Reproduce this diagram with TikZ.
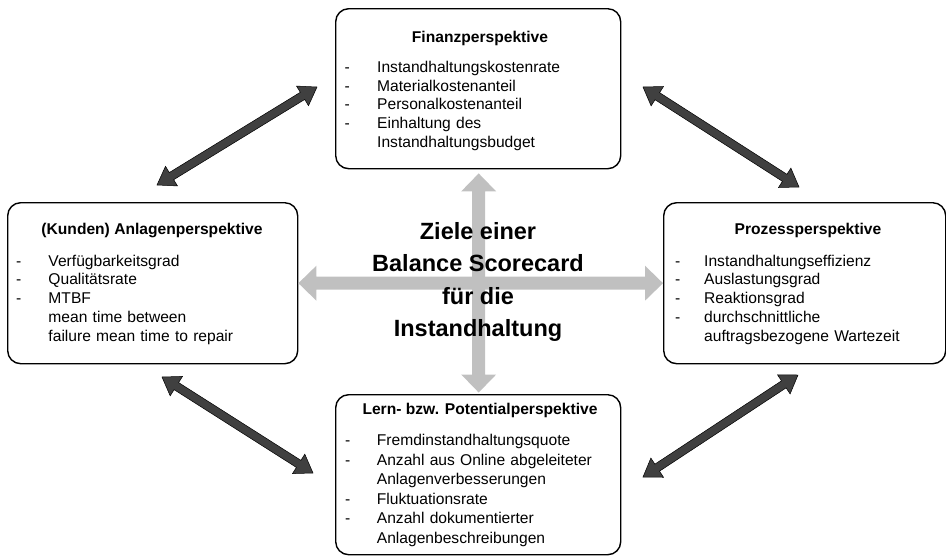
\documentclass[tikz,border=0pt]{standalone}
\usepackage{fontspec}
\setmainfont{Liberation Sans}
\usetikzlibrary{calc}
\definecolor{darkarrow}{HTML}{404040}
\definecolor{lightarrow}{HTML}{C0C0C0}
\newlength\dashw
\newcommand\dit{\makebox[\dashw][l]{-}}
\newcommand\nodit{\hspace*{\dashw}}
% #1 style, #2 start, #3 end, #4 half shaft, #5 half head, #6 head length
\newcommand\fatarrow[6][]{%
  \path let \p1=($(#3)-(#2)$) in \pgfextra{%
    \pgfmathsetmacro\fatang{atan2(\y1,\x1)}%
    \pgfmathsetmacro\fatlen{veclen(\x1,\y1)}%
    \global\let\fatang\fatang \global\let\fatlen\fatlen};
  \begin{scope}[shift={(#2)},rotate=\fatang]
    \path[#1] (0,0) -- (#6,#5) -- (#6,#4) -- ({\fatlen-#6},#4) -- ({\fatlen-#6},#5)
      -- (\fatlen,0) -- ({\fatlen-#6},-#5) -- ({\fatlen-#6},-#4) -- (#6,-#4) -- (#6,-#5) -- cycle;
  \end{scope}}
\begin{document}
\begin{tikzpicture}[x=1pt,y=-1pt,
  box/.style={draw=black, line width=1.4pt, rounded corners=13pt, inner sep=0pt, anchor=north west},
  boxtitle/.style={font=\fontsize{15.6}{18.8}\selectfont\bfseries, anchor=base, inner sep=0pt},
  itemlist/.style={font=\fontsize{15.6}{18.8}\selectfont, anchor=base west, inner sep=0pt, text width=270pt, align=left},
  ctrtext/.style={font=\fontsize{23.5}{28}\selectfont\bfseries, anchor=base, inner sep=0pt},
  darkfat/.style={fill=darkarrow, draw=black, line width=0.5pt, line join=miter},
  lightfat/.style={fill=lightarrow, draw=none}]
\useasboundingbox (0,0) rectangle (946,555);
% boxes
\node[box, minimum width=285pt, minimum height=160pt] (fin) at (335,8) {};
\node[box, minimum width=290pt, minimum height=161pt] (anl) at (7,202) {};
\node[box, minimum width=282pt, minimum height=161pt] (proz) at (663,202) {};
\node[box, minimum width=285pt, minimum height=160pt] (lern) at (335,394) {};
% named connector ends
\coordinate (vtop) at ($(fin.south)+(0.5,4)$);
\coordinate (vbot) at ($(lern.north)+(0.5,-1.5)$);
\coordinate (a1s) at (157,185); \coordinate (a1e) at (317,87);
\coordinate (a2s) at (643,87);  \coordinate (a2e) at (799,187);
\coordinate (a3s) at (162,377); \coordinate (a3e) at (313,473);
\coordinate (a4s) at (643,477); \coordinate (a4e) at (798,375);
% gray arrows
\fatarrow[lightfat]{vtop}{vbot}{6.5}{17.5}{18}
\fatarrow[lightfat]{anl.east}{proz.west}{6.5}{17.5}{18}
% dark arrows
\fatarrow[darkfat]{a1s}{a1e}{4.2}{11.5}{17}
\fatarrow[darkfat]{a2s}{a2e}{4.2}{11.5}{17}
\fatarrow[darkfat]{a3s}{a3e}{4.2}{11.5}{17}
\fatarrow[darkfat]{a4s}{a4e}{4.2}{11.5}{17}
% center text
\node[ctrtext] (c1) at (478,239.5) {Ziele einer};
\node[ctrtext] (c2) at (478,271.5) {Balance Scorecard};
\node[ctrtext] (c3) at (478,304) {für die};
\node[ctrtext] (c4) at (478,336.5) {Instandhaltung};
% top box
\node[boxtitle] (fint) at (480,42.5) {Finanzperspektive};
\node[itemlist] (finl) at (344.5,72.3) {\setlength\dashw{32.5pt}%
\dit Instandhaltungskostenrate\\
\dit Materialkostenanteil\\
\dit Personalkostenanteil\\
\dit Einhaltung des\\
\nodit Instandhaltungsbudget};
% left box
\node[boxtitle] (anlt) at (152,234.3) {(Kunden) Anlagenperspektive};
\node[itemlist] (anll) at (16,266) {\setlength\dashw{32.3pt}%
\dit Verfügbarkeitsgrad\\
\dit Qualitätsrate\\
\dit MTBF\\
\nodit mean time between\\
\nodit failure mean time to repair};
% right box
\node[boxtitle] (prozt) at (808,234.5) {Prozessperspektive};
\node[itemlist] (prozl) at (675,266) {\setlength\dashw{29pt}%
\dit Instandhaltungseffizienz\\
\dit Auslastungsgrad\\
\dit Reaktionsgrad\\
\dit durchschnittliche\\
\nodit auftragsbezogene Wartezeit};
% bottom box
\node[boxtitle] (lernt) at (480,414) {Lern- bzw. Potentialperspektive};
\node[itemlist, font=\fontsize{15.6}{19.5}\selectfont] (lernl) at (345,445.7) {\setlength\dashw{31.7pt}%
\dit Fremdinstandhaltungsquote\\
\dit Anzahl aus Online abgeleiteter\\
\nodit Anlagenverbesserungen\\
\dit Fluktuationsrate\\
\dit Anzahl dokumentierter\\
\nodit Anlagenbeschreibungen};
\end{tikzpicture}
\end{document}
